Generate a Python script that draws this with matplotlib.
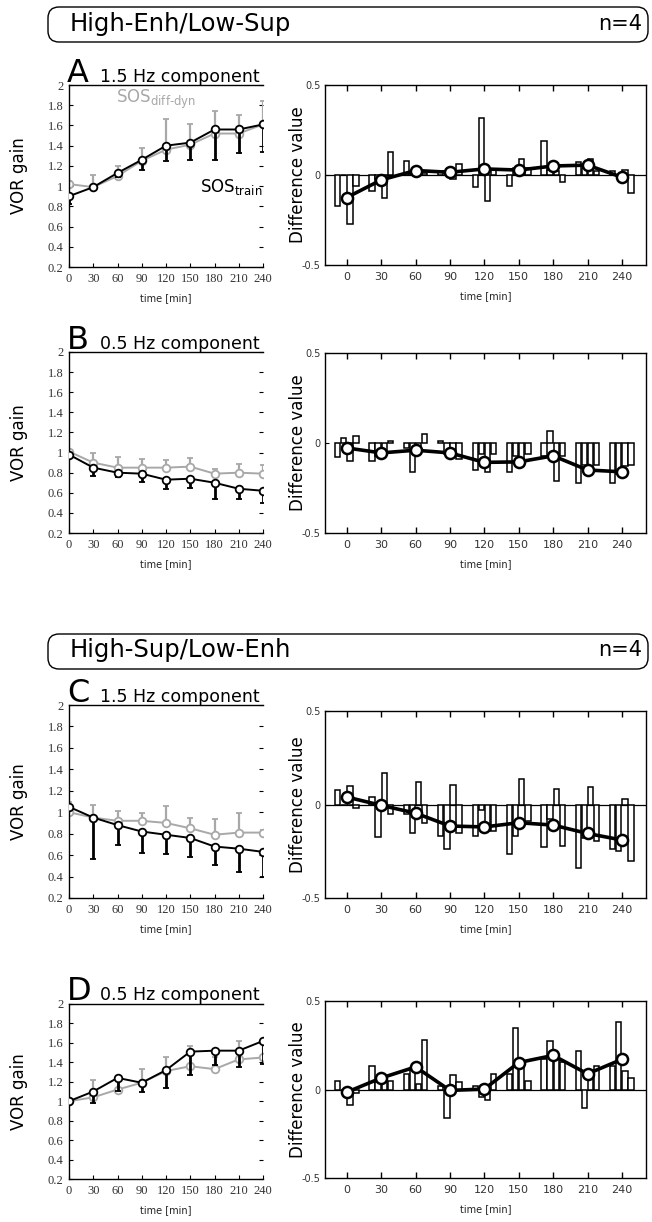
# =========================
# 1. Import Libraries
# =========================
import numpy as np
import matplotlib
matplotlib.use('Agg')
import matplotlib.pyplot as plt
from matplotlib.patches import FancyBboxPatch

plt.rcParams['mathtext.fontset'] = 'dejavusans'

# =========================
# 2. Data
# =========================
time = [0, 30, 60, 90, 120, 150, 180, 210, 240]
yticks_gain = [0.2, 0.4, 0.6, 0.8, 1.0, 1.2, 1.4, 1.6, 1.8, 2.0]
ytick_gain_labels = ['0.2', '0.4', '0.6', '0.8', '1', '1.2', '1.4', '1.6', '1.8', '2']

# A: 1.5 Hz, High-Enh/Low-Sup
a_train = [0.90, 0.99, 1.13, 1.26, 1.40, 1.43, 1.56, 1.56, 1.61]
a_train_err = [0.08, 0.02, 0.04, 0.10, 0.15, 0.17, 0.30, 0.23, 0.27]
a_diff = [1.02, 0.99, 1.10, 1.25, 1.36, 1.41, 1.52, 1.52, 1.61]
a_diff_err = [0.03, 0.12, 0.10, 0.13, 0.30, 0.20, 0.22, 0.18, 0.23]
a_bars = [[-0.17, 0.00, -0.27, -0.06],
          [-0.09, -0.02, -0.13, 0.13],
          [0.08, 0.01, 0.00, 0.01],
          [0.02, 0.00, -0.02, 0.06],
          [-0.065, 0.315, -0.145, 0.03],
          [-0.06, 0.04, 0.09, 0.04],
          [0.19, 0.03, 0.02, -0.04],
          [0.07, 0.04, 0.09, 0.02],
          [0.02, 0.00, 0.03, -0.10]]

# B: 0.5 Hz, High-Enh/Low-Sup
b_train = [0.98, 0.85, 0.80, 0.79, 0.73, 0.74, 0.70, 0.64, 0.62]
b_train_err = [0.02, 0.08, 0.04, 0.08, 0.09, 0.09, 0.16, 0.10, 0.12]
b_diff = [1.01, 0.90, 0.85, 0.85, 0.85, 0.86, 0.79, 0.80, 0.79]
b_diff_err = [0.02, 0.10, 0.11, 0.09, 0.08, 0.09, 0.05, 0.09, 0.09]
b_bars = [[-0.08, 0.03, -0.10, 0.04],
          [-0.10, -0.07, -0.06, 0.01],
          [-0.03, -0.16, -0.02, 0.05],
          [0.01, -0.06, -0.08, -0.09],
          [-0.15, -0.06, -0.16, -0.06],
          [-0.16, -0.07, -0.13, -0.06],
          [-0.07, 0.065, -0.21, -0.07],
          [-0.22, -0.12, -0.14, -0.12],
          [-0.22, -0.17, -0.13, -0.12]]

# C: 1.5 Hz, High-Sup/Low-Enh
c_train = [1.05, 0.95, 0.88, 0.82, 0.79, 0.76, 0.68, 0.66, 0.63]
c_train_err = [0.02, 0.39, 0.19, 0.20, 0.18, 0.18, 0.17, 0.22, 0.23]
c_diff = [1.00, 0.95, 0.92, 0.92, 0.90, 0.85, 0.79, 0.81, 0.81]
c_diff_err = [0.10, 0.12, 0.09, 0.07, 0.16, 0.10, 0.15, 0.18, 0.02]
c_bars = [[0.08, 0.00, 0.10, -0.02],
          [0.04, -0.175, 0.167, -0.05],
          [-0.05, -0.155, 0.12, -0.10],
          [-0.17, -0.24, 0.105, -0.155],
          [-0.17, -0.03, -0.14, -0.14],
          [-0.265, -0.17, 0.135, -0.09],
          [-0.225, -0.08, 0.085, -0.22],
          [-0.34, -0.18, 0.095, -0.195],
          [-0.24, -0.25, 0.03, -0.30]]

# D: 0.5 Hz, High-Sup/Low-Enh
d_train = [1.00, 1.10, 1.24, 1.19, 1.32, 1.51, 1.52, 1.52, 1.62]
d_train_err = [0.00, 0.12, 0.13, 0.10, 0.18, 0.24, 0.15, 0.17, 0.24]
d_diff = [1.00, 1.04, 1.12, 1.19, 1.31, 1.36, 1.33, 1.43, 1.45]
d_diff_err = [0.00, 0.18, 0.13, 0.14, 0.14, 0.21, 0.13, 0.19, 0.18]
d_bars = [[0.05, 0.00, -0.09, -0.02],
          [0.13, 0.04, 0.04, 0.05],
          [0.09, 0.11, 0.03, 0.28],
          [0.02, -0.16, 0.08, 0.04],
          [0.02, -0.04, -0.06, 0.09],
          [0.09, 0.35, 0.12, 0.05],
          [0.17, 0.275, 0.17, 0.155],
          [0.22, -0.106, 0.11, 0.13],
          [0.13, 0.38, 0.107, 0.065]]

bar_offsets = [-8.0, -2.7, 2.7, 8.0]
GREY = '#a8a8a8'

# =========================
# 3. Figure & helpers
# =========================
W, H = 652, 1222
fig = plt.figure(figsize=(W / 100, H / 100), dpi=100)
fig.patch.set_facecolor('white')


def rect(x0, y0, x1, y1):
    return [x0 / W, 1 - y1 / H, (x1 - x0) / W, (y1 - y0) / H]


def header(y0, y1, title):
    ax = fig.add_axes(rect(44, y0, 652, y1))
    ax.set_xlim(0, 608)
    ax.set_ylim(0, y1 - y0)
    ax.axis('off')
    box = FancyBboxPatch((4, 1), 600, y1 - y0 - 2,
                         boxstyle='round,pad=0,rounding_size=11',
                         fc='white', ec='black', lw=1.0)
    ax.add_patch(box)
    ax.text(26, (y1 - y0) / 2 + 1, title, fontsize=17.5, va='center', ha='left')
    ax.text(598, (y1 - y0) / 2 + 1, 'n=4', fontsize=15, va='center', ha='right')


def gain_panel(box, train, train_err, diff, diff_err):
    ax = fig.add_axes(rect(*box))
    zeros = np.zeros(len(time))
    ax.errorbar(time, diff, yerr=[zeros, diff_err], color=GREY, lw=1.4,
                elinewidth=1.6, capsize=2, capthick=1.4, marker='o', ms=5.5,
                mfc='white', mec=GREY, mew=1.3, zorder=2)
    ax.errorbar(time, train, yerr=[train_err, zeros], color='black', lw=1.4,
                elinewidth=2.0, capsize=2, capthick=1.6, marker='o', ms=5.5,
                mfc='white', mec='black', mew=1.3, zorder=3)
    ax.set_xlim(0, 240)
    ax.set_ylim(0.2, 2.0)
    ax.set_xticks(time)
    ax.set_yticks(yticks_gain)
    ax.set_yticklabels(ytick_gain_labels)
    ax.spines['right'].set_visible(False)
    for s in ['left', 'bottom', 'top']:
        ax.spines[s].set_linewidth(1.0)
    ax.tick_params(direction='in', length=3, width=0.8, right=True,
                   labelsize=9, labelcolor='#333333', pad=4)
    for lab in ax.get_xticklabels() + ax.get_yticklabels():
        lab.set_fontfamily('Liberation Serif')
    return ax


def diff_panel(box, bars, zero_line=True):
    ax = fig.add_axes(rect(*box))
    bars = np.array(bars)
    for j, off in enumerate(bar_offsets):
        ax.bar(np.array(time) + off, bars[:, j], width=4.6, color='white',
               edgecolor='black', linewidth=1.1, zorder=2)
    if zero_line:
        ax.axhline(0, color='black', lw=0.9, zorder=1)
    ax.plot(time, bars.mean(axis=1), color='black', lw=2.6, marker='o',
            ms=8, mfc='white', mec='black', mew=1.8, zorder=4)
    ax.set_xlim(-19, 261)
    ax.set_ylim(-0.5, 0.5)
    ax.set_xticks(time)
    ax.set_yticks([-0.5, 0, 0.5])
    ax.set_yticklabels(['-0.5', '0', '0.5'])
    for s in ax.spines.values():
        s.set_linewidth(1.0)
    ax.tick_params(axis='x', direction='in', length=4, width=1.0, top=True,
                   labelsize=8, labelcolor='#333333', pad=5)
    ax.tick_params(axis='y', direction='in', length=3, width=0.8,
                   labelsize=7, labelcolor='#333333', pad=3)
    return ax


def labels(left_box, right_box, letter, comp, letter_y):
    fig.text(67 / W, 1 - letter_y / H, letter, fontsize=23, va='baseline', ha='left')
    fig.text(100 / W, 1 - letter_y / H, comp, fontsize=12.5, va='baseline', ha='left')
    ymid = (left_box[1] + left_box[3]) / 2
    fig.text(19 / W, 1 - ymid / H, 'VOR gain', rotation=90, fontsize=12,
             va='center', ha='center')
    ymid = (right_box[1] + right_box[3]) / 2
    fig.text(298 / W, 1 - ymid / H, 'Difference value', rotation=90,
             fontsize=12, va='center', ha='center')
    for b in [left_box, right_box]:
        xc = (b[0] + b[2]) / 2
        fig.text(xc / W, 1 - (b[3] + 31) / H, 'time [min]', fontsize=7,
                 va='center', ha='center', color='#222222')


# =========================
# 4. Panels
# =========================
header(6, 43, 'High-Enh/Low-Sup')
header(633, 670, 'High-Sup/Low-Enh')

boxA_l, boxA_r = (69, 85, 263, 267), (325, 85, 646, 265)
boxB_l, boxB_r = (69, 352, 263, 533), (325, 353, 646, 533)
boxC_l, boxC_r = (69, 705, 263, 898), (325, 711, 646, 898)
boxD_l, boxD_r = (69, 1004, 263, 1179), (325, 1001, 646, 1178)

axA = gain_panel(boxA_l, a_train, a_train_err, a_diff, a_diff_err)
axA.text(58, 1.86, r'SOS$_{\mathrm{diff\text{-}dyn}}$', color=GREY, fontsize=12,
         va='center', ha='left')
axA.text(162, 0.99, r'SOS$_{\mathrm{train}}$', color='black', fontsize=12,
         va='center', ha='left')
diff_panel(boxA_r, a_bars)
labels(boxA_l, boxA_r, 'A', '1.5 Hz component', 82)

gain_panel(boxB_l, b_train, b_train_err, b_diff, b_diff_err)
diff_panel(boxB_r, b_bars, zero_line=False)
labels(boxB_l, boxB_r, 'B', '0.5 Hz component', 349)

gain_panel(boxC_l, c_train, c_train_err, c_diff, c_diff_err)
diff_panel(boxC_r, c_bars)
labels(boxC_l, boxC_r, 'C', '1.5 Hz component', 702)

gain_panel(boxD_l, d_train, d_train_err, d_diff, d_diff_err)
diff_panel(boxD_r, d_bars)
labels(boxD_l, boxD_r, 'D', '0.5 Hz component', 1000)

# =========================
# 5. Save
# =========================
fig.savefig('out.png', dpi=100, facecolor='white')
